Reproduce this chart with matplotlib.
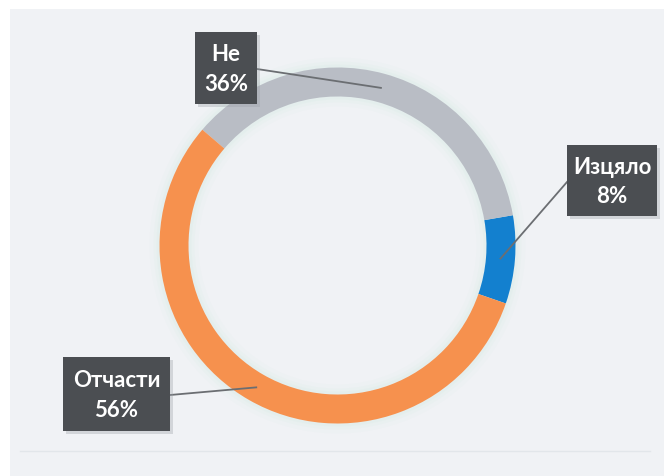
import numpy as np
import matplotlib.pyplot as plt
from matplotlib.patches import Rectangle

# survey answers
labels = ['Изцяло', 'Не', 'Отчасти']
shares = [8, 36, 56]
colors = ['#1380cf', '#b9bdc5', '#f6914e']

W, H = 664, 477
fig = plt.figure(figsize=(W / 100, H / 100), dpi=100)
ax = fig.add_axes([0, 0, 1, 1])
fig.patch.set_facecolor('white')

# light panel behind the chart
ax.add_patch(Rectangle((10, 0), W - 10, H - 10, facecolor='#f0f2f5', edgecolor='none', zorder=0))
ax.plot([20, 650], [25, 25], color='#e2e6ea', lw=1, zorder=0.5)

cx, cy = 337.5, 477 - 246.5
R = 178
width = 29

# soft greenish glow round the ring
for k, a in [(10, 0.06), (6, 0.08), (3, 0.1)]:
    ax.pie([1], radius=R + k, center=(cx, cy), colors=['#bfe6d6'],
           wedgeprops=dict(width=width + 2 * k, edgecolor='none', alpha=a))

wedges, _ = ax.pie(shares, startangle=-19, counterclock=True, colors=colors,
                   radius=R, center=(cx, cy), frame=True,
                   wedgeprops=dict(width=width, edgecolor='none'))
ax.set_xlim(0, W)
ax.set_ylim(0, H)
ax.set_aspect('equal')
ax.axis('off')

# label boxes: (x0, y_top, w, h, line start) in image pixels
boxes = {
    'Не': (195, 33, 62, 72, (257, 70)),
    'Изцяло': (567, 146, 90, 71, (567, 183)),
    'Отчасти': (63, 358, 107, 74, (170, 396)),
}

font = dict(fontsize=16, fontweight='bold', family='Lato', color='white',
            ha='center', va='center', zorder=7)

for lab, val, w in zip(labels, shares, wedges):
    x0, yt, bw, bh, start = boxes[lab]
    mid = np.deg2rad((w.theta1 + w.theta2) / 2)
    rm = R - width / 2
    ex, ey = cx + rm * np.cos(mid), cy + rm * np.sin(mid)
    sx, sy = start[0], H - start[1]
    ax.plot([sx, ex], [sy, ey], color='#6b6e72', lw=1.3, zorder=4)
    y0 = H - yt - bh
    ax.add_patch(Rectangle((x0 + 3, y0 - 3), bw, bh, facecolor='#9aa0a6', alpha=0.35,
                           edgecolor='none', zorder=5))
    ax.add_patch(Rectangle((x0, y0), bw, bh, facecolor='#4b4e52', edgecolor='none', zorder=6))
    ax.text(x0 + bw / 2, y0 + bh * 0.70, lab, **font)
    ax.text(x0 + bw / 2, y0 + bh * 0.29, f'{val}%', **font)

fig.savefig('out.png', dpi=100)
